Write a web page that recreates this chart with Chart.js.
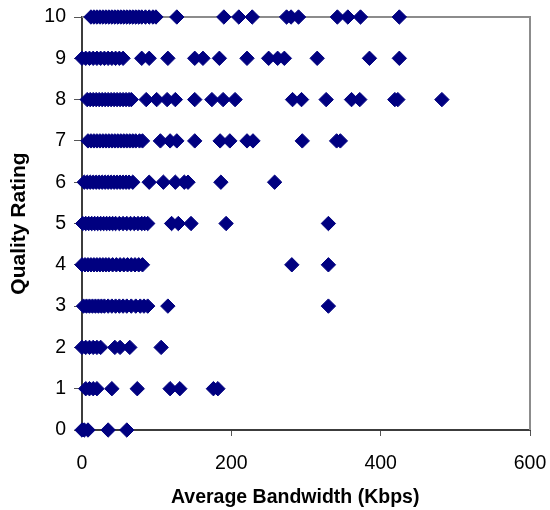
<!DOCTYPE html>
<html>
<head>
<meta charset="utf-8">
<script src="https://cdn.jsdelivr.net/npm/chart.js@4"></script>
<style>
  body { margin: 0; background: #fff; }
  canvas { display: block; }
</style>
</head>
<body>
<canvas id="miGrafico" width="550" height="510"></canvas>
<script>
// quality rating of each row
const ratings = [0, 1, 2, 3, 4, 5, 6, 7, 8, 9, 10];
// average bandwidth (Kbps) of the points on each row
const bw0 = [0, 3, 8, 35, 60];
const bw1 = [5, 10, 15, 20, 40, 74, 118, 131, 176, 182];
const bw2 = [0, 5, 10, 15, 20, 25, 44, 51, 64, 106];
const bw3 = [2, 6, 10, 14, 18, 22, 26, 30, 35, 40, 45, 50, 55, 60, 66, 72, 78, 83, 88, 115, 330];
const bw4 = [0, 4, 8, 12, 16, 20, 24, 28, 32, 36, 41, 46, 51, 56, 61, 66, 71, 76, 81, 281, 330];
const bw5 = [1, 5, 9, 13, 17, 21, 25, 29, 33, 37, 41, 45, 50, 55, 60, 65, 70, 75, 80, 84, 88, 120, 129, 146, 193, 330];
const bw6 = [3, 7, 11, 15, 19, 23, 27, 31, 35, 39, 43, 47, 51, 55, 59, 63, 68, 90, 109, 125, 137, 142, 186, 258];
const bw7 = [8, 12, 16, 20, 24, 28, 32, 36, 40, 44, 48, 52, 56, 60, 64, 68, 72, 77, 81, 105, 118, 127, 151, 185, 198, 221, 229, 295, 341, 346];
const bw8 = [7, 11, 15, 19, 23, 27, 31, 35, 39, 43, 47, 51, 55, 59, 63, 66, 86, 100, 114, 125, 151, 174, 189, 205, 282, 294, 327, 361, 372, 419, 423, 482];
const bw9 = [0, 5, 10, 15, 20, 25, 30, 35, 40, 45, 50, 55, 80, 90, 115, 151, 162, 184, 221, 250, 262, 271, 315, 385, 425];
const bw10 = [12, 16, 20, 24, 28, 32, 36, 40, 44, 48, 52, 56, 60, 64, 68, 72, 76, 80, 85, 90, 95, 99, 127, 190, 210, 228, 274, 280, 290, 342, 356, 373, 425];
const bandwidths = [bw0, bw1, bw2, bw3, bw4, bw5, bw6, bw7, bw8, bw9, bw10];
// axis ticks
const xTicks = [0, 200, 400, 600];
const yTicks = [0, 1, 2, 3, 4, 5, 6, 7, 8, 9, 10];

const puntos = [];
ratings.forEach((r, i) => {
  bandwidths[i].forEach(b => puntos.push({ x: b, y: r }));
});

const familia = '"Liberation Sans", Arial, sans-serif';

// grey frame on the top and right of the plot area
const marco = {
  id: 'marco',
  beforeDatasetsDraw(chart) {
    const { ctx, chartArea } = chart;
    ctx.save();
    ctx.strokeStyle = '#8c8c8c';
    ctx.lineWidth = 2;
    ctx.beginPath();
    ctx.moveTo(chartArea.left, chartArea.top);
    ctx.lineTo(chartArea.right, chartArea.top);
    ctx.lineTo(chartArea.right, chartArea.bottom);
    ctx.stroke();
    ctx.restore();
  }
};

const ctx = document.getElementById('miGrafico').getContext('2d');
new Chart(ctx, {
  type: 'scatter',
  data: {
    datasets: [{
      data: puntos,
      pointStyle: 'rectRot',
      pointRadius: 7.2,
      pointHoverRadius: 7.2,
      borderWidth: 1,
      backgroundColor: '#000080',
      borderColor: '#000080',
      clip: false
    }]
  },
  options: {
    responsive: false,
    devicePixelRatio: 1,
    animation: false,
    layout: { padding: { top: 17, right: 20, left: 0, bottom: 0 } },
    plugins: { legend: { display: false }, tooltip: { enabled: false } },
    scales: {
      x: {
        type: 'linear',
        min: 0,
        max: 600,
        afterBuildTicks: s => { s.ticks = xTicks.map(v => ({ value: v })); },
        afterFit: s => { s.height = 80; s.paddingLeft = 0; s.paddingRight = 0; },
        border: { color: '#3c3c3c', width: 2 },
        grid: { drawOnChartArea: false, tickLength: 6, tickColor: '#555', tickWidth: 1 },
        ticks: { color: '#000', font: { family: familia, size: 19.5 }, padding: 16, maxRotation: 0 },
        title: {
          display: true,
          // trailing spaces nudge the title a bit left, like the original
          text: 'Average Bandwidth (Kbps)    ',
          color: '#000',
          font: { family: familia, size: 19.5, weight: 'bold' },
          padding: { top: 0, bottom: 1 }
        }
      },
      y: {
        type: 'linear',
        min: 0,
        max: 10,
        afterBuildTicks: s => { s.ticks = yTicks.map(v => ({ value: v })); },
        afterFit: s => { s.width = 82; s.paddingTop = 0; s.paddingBottom = 0; },
        border: { color: '#3c3c3c', width: 2 },
        grid: { drawOnChartArea: false, tickLength: 8, tickColor: '#555', tickWidth: 1 },
        ticks: { color: '#000', font: { family: familia, size: 19.5 }, padding: 8 },
        title: {
          display: true,
          text: 'Quality Rating',
          color: '#000',
          font: { family: familia, size: 21, weight: 'bold' },
          padding: { top: 7, bottom: 0 }
        }
      }
    }
  },
  plugins: [marco]
});
</script>
</body>
</html>
